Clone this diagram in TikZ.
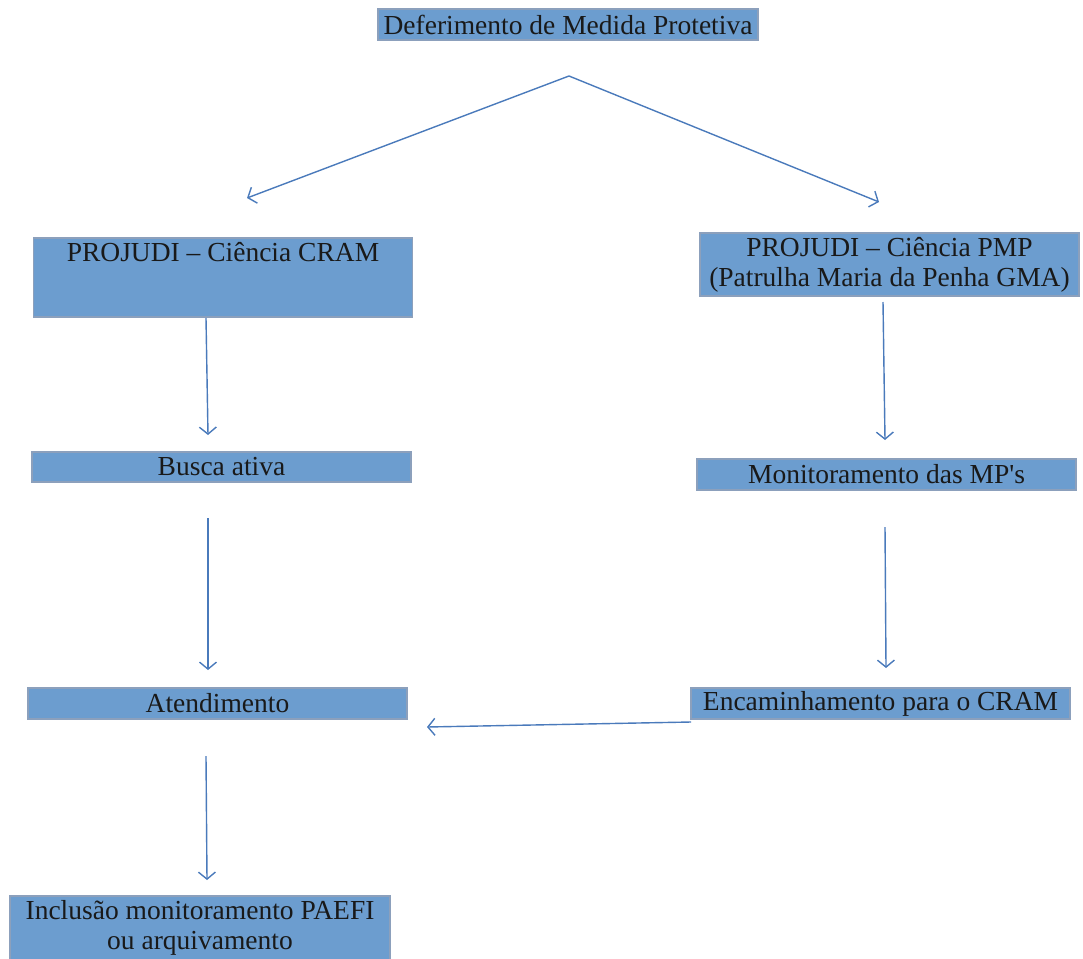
\documentclass[tikz,border=0pt]{standalone}
\usepackage{fontspec}
\setmainfont{Liberation Serif}
\usetikzlibrary{arrows.meta}
\definecolor{boxfill}{RGB}{108,157,207}
\definecolor{boxline}{RGB}{140,160,188}
\definecolor{arrowc}{RGB}{74,122,187}
\begin{document}
\begin{tikzpicture}[x=1pt,y=-1pt,
  box/.style={draw=boxline,line width=1.6pt,fill=boxfill,inner sep=0pt,
    minimum width=379pt,align=center,
    font=\fontsize{27.5}{30}\selectfont,text=black!90},
  conn/.style={draw=arrowc,line width=1.4pt,-{Straight Barb[length=7pt,width=17pt,line width=1.4pt]}}]
\useasboundingbox (0,0) rectangle (1083,958);
\node[box,minimum width=380pt,minimum height=31pt] (top) at (568,24.5) {Deferimento de Medida Protetiva};
\node[box,anchor=north,minimum height=79pt,text height=20pt,text depth=52pt] (cram) at (223,237) {PROJUDI -- Ciência CRAM};
\node[box,minimum height=63pt] (pmp) at (889.5,264.5) {PROJUDI -- Ciência PMP\\(Patrulha Maria da Penha GMA)};
\node[box,minimum height=30pt] (busca) at (221.5,467) {Busca ativa};
\node[box,minimum height=31pt] (monit) at (886.5,474.5) {Monitoramento das MP\textquotesingle s};
\node[box,minimum height=31pt] (atend) at (217.5,703.5) {Atendimento};
\node[box,minimum height=31pt] (encam) at (880.5,703.5) {Encaminhamento para o CRAM};
\node[box,minimum width=380pt,minimum height=64pt] (incl) at (200,928) {Inclusão monitoramento PAEFI\\ou arquivamento};
\coordinate (apex) at (569,76);
\coordinate (cramin) at (247,198);
\coordinate (pmpin) at (879,202);
\coordinate (c1a) at (206,318); \coordinate (c1b) at (208,435);
\coordinate (p1a) at (883,302); \coordinate (p1b) at (885,440);
\coordinate (b1a) at (208,518); \coordinate (b1b) at (208,670);
\coordinate (m1a) at (885,527); \coordinate (m1b) at (886,668);
\coordinate (e1a) at (691,722); \coordinate (e1b) at (427,727);
\coordinate (a1a) at (206,756); \coordinate (a1b) at (207,880);
\draw[conn] (apex) -- (cramin);
\draw[conn] (apex) -- (pmpin);
\draw[conn] (c1a) -- (c1b);
\draw[conn] (p1a) -- (p1b);
\draw[conn] (b1a) -- (b1b);
\draw[conn] (m1a) -- (m1b);
\draw[conn] (e1a) -- (e1b);
\draw[conn] (a1a) -- (a1b);
\end{tikzpicture}
\end{document}
